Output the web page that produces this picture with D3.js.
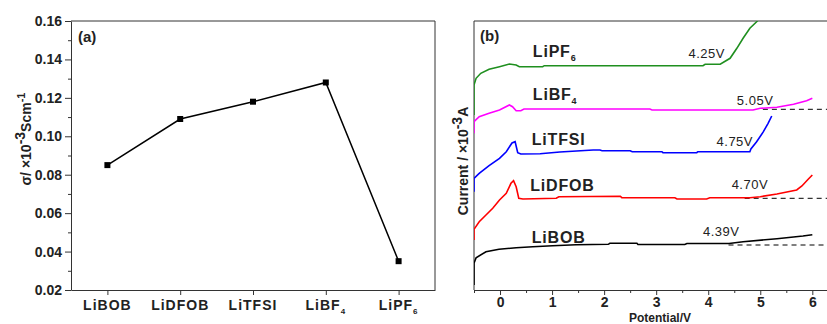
<!DOCTYPE html>
<html>
<head>
<meta charset="utf-8">
<script src="https://cdn.jsdelivr.net/npm/d3@7"></script>
<style>
    body { margin: 0; background: #fff; }
    text { font-family: Arial, "Liberation Sans", sans-serif; fill: #222; }
</style>
</head>
<body>
<script>
// panel (a): conductivity of each salt
const salts = ["LiBOB", "LiDFOB", "LiTFSI", "LiBF4", "LiPF6"];
const conductivity = [0.085, 0.109, 0.118, 0.128, 0.035];
const yTicksA = [0.02, 0.04, 0.06, 0.08, 0.10, 0.12, 0.14, 0.16];

// panel (b): LSV curves, [potential V, current (arb. units)]
const curveLiBOB = [[-0.5, 0.5], [-0.5, 2.67], [-0.46, 3.23], [-0.27, 3.83], [-0.02, 4.07], [0.31, 4.23],
    [0.63, 4.33], [1.01, 4.43], [1.46, 4.53], [2.08, 4.57], [2.11, 4.67], [2.63, 4.67], [2.65, 4.55],
    [3.55, 4.55], [3.59, 4.65], [4.40, 4.65], [4.67, 4.83], [5.32, 5.13], [5.82, 5.4], [6.0, 5.53]];
const curveLiDFOB = [[-0.5, 5.0], [-0.5, 6.07], [-0.4, 6.83], [-0.27, 7.5], [-0.14, 8.17], [-0.01, 9.0],
    [0.12, 9.67], [0.21, 10.67], [0.26, 10.93], [0.31, 10.33], [0.36, 9.17], [0.44, 9.1], [1.08, 9.17],
    [1.13, 9.33], [2.31, 9.38], [2.34, 9.23], [3.36, 9.23], [3.40, 9.1], [3.97, 9.1], [4.03, 9.23],
    [4.80, 9.23], [5.0, 9.33], [5.32, 9.6], [5.70, 10.0], [5.80, 10.4], [5.92, 11.07], [6.0, 11.5]];
const curveLiTFSI = [[-0.5, 9.83], [-0.5, 11.17], [-0.4, 11.67], [-0.21, 12.43], [-0.01, 13.17], [0.12, 13.83],
    [0.23, 14.7], [0.29, 14.83], [0.34, 13.73], [0.40, 13.6], [0.77, 13.63], [1.15, 13.8], [1.79, 14.0],
    [1.92, 14.0], [1.96, 13.93], [2.50, 13.93], [2.54, 13.83], [3.11, 13.83], [3.13, 13.73], [3.78, 13.73],
    [3.80, 13.83], [4.80, 13.83], [4.82, 14.1], [4.93, 14.83], [5.06, 15.83], [5.15, 16.67], [5.22, 17.4]];
const curveLiBF4 = [[-0.5, 15.67], [-0.5, 16.83], [-0.4, 17.33], [-0.21, 17.67], [-0.01, 18.0], [0.18, 18.5],
    [0.24, 18.33], [0.31, 17.93], [0.40, 17.93], [0.46, 18.1], [2.88, 18.1], [2.92, 18.0], [4.86, 18.0],
    [5.0, 18.17], [5.32, 18.27], [5.64, 18.57], [5.89, 18.93], [6.0, 19.17]];
const curveLiPF6 = [[-0.5, 17.5], [-0.5, 20.5], [-0.46, 21.17], [-0.37, 21.67], [-0.21, 22.07], [-0.01, 22.33],
    [0.18, 22.6], [0.31, 22.5], [0.37, 22.33], [0.82, 22.33], [0.85, 22.43], [3.90, 22.43], [3.94, 22.57],
    [4.23, 22.57], [4.42, 23.17], [4.55, 24.17], [4.67, 25.17], [4.80, 26.17], [4.93, 26.83], [5.03, 27.4]];

const curveSalts = ["LiPF6", "LiBF4", "LiTFSI", "LiDFOB", "LiBOB"];
const curveColors = ["#1f8f1f", "#ff00ff", "#0000ff", "#ff0000", "#000000"];
const curves = [curveLiPF6, curveLiBF4, curveLiTFSI, curveLiDFOB, curveLiBOB];
const onsetLabels = ["4.25V", "5.05V", "4.75V", "4.70V", "4.39V"];
// onset potential and baseline of dashed guide (null = no guide)
const onsetV = [4.25, 5.05, 4.75, 4.70, 4.39];
const baseline = [null, 18.07, null, 9.17, 4.5];
const xTicksB = [0, 1, 2, 3, 4, 5, 6];
const xMinorB = [-0.5, 0.5, 1.5, 2.5, 3.5, 4.5, 5.5, 6.5];

// label anchors in data units of panel (b)
const nameAnchor = [[0.63, 23.3], [0.63, 19.05], [0.61, 14.55], [0.58, 9.9], [0.61, 4.7]];
const onsetAnchor = [[3.62, 23.2], [4.55, 18.55], [4.16, 14.45], [4.45, 10.1], [3.90, 5.45]];

const svg = d3.select("body").append("svg")
    .attr("width", 827)
    .attr("height", 324);

// write "LiBF4" as LiBF with subscript 4
function saltText(sel, name, subSize) {
    const m = name.match(/^(.*?)(\d+)$/);
    if (m) {
        sel.append("tspan").text(m[1]);
        sel.append("tspan").attr("dy", 4).style("font-size", subSize + "px").text(m[2]);
    } else {
        sel.text(name);
    }
}

//---------------- panel (a)
const a = {left: 71, right: 435, top: 21, bottom: 290};

const xA = d3.scalePoint()
    .domain(salts)
    .range([a.left, a.right])
    .padding(0.5);

const yA = d3.scaleLinear()
    .domain([0.02, 0.16])
    .range([a.bottom, a.top]);

const gA = svg.append("g");

// minor ticks
gA.append("g")
    .attr("transform", `translate(${a.left},0)`)
    .call(d3.axisLeft(yA).tickValues(d3.range(0.03, 0.16, 0.02)).tickSize(3).tickFormat(""))
    .call(g => g.select(".domain").remove());

gA.append("g")
    .attr("transform", `translate(${a.left},0)`)
    .call(d3.axisLeft(yA).tickValues(yTicksA).tickSize(6).tickSizeOuter(0).tickPadding(3)
        .tickFormat(d3.format(".2f")))
    .call(g => g.selectAll("text").style("font-size", "14px").style("font-weight", "bold").attr("fill", "#222"));

gA.append("g")
    .attr("transform", `translate(0,${a.bottom})`)
    .call(d3.axisBottom(xA).tickSize(5).tickSizeOuter(0).tickFormat(""));

gA.selectAll("path.domain").attr("stroke", "#333");
gA.selectAll(".tick line").attr("stroke", "#333");

// top & right frame
gA.append("path")
    .attr("d", `M${a.left},${a.top}H${a.right}V${a.bottom}`)
    .attr("fill", "none")
    .attr("stroke", "#333");

xA.domain().forEach(s => {
    gA.append("text")
        .attr("x", xA(s))
        .attr("y", 310)
        .attr("text-anchor", "middle")
        .style("font-size", "14px")
        .style("font-weight", "bold")
        .style("letter-spacing", "1px")
        .call(t => saltText(t, s, 8));
});

const lineA = d3.line()
    .x((d, i) => xA(salts[i]))
    .y(d => yA(d));

gA.append("path")
    .datum(conductivity)
    .attr("d", lineA)
    .attr("fill", "none")
    .attr("stroke", "#000")
    .attr("stroke-width", 1.5);

gA.selectAll("rect.pt")
    .data(conductivity)
    .join("rect")
    .attr("class", "pt")
    .attr("x", (d, i) => xA(salts[i]) - 3)
    .attr("y", d => yA(d) - 3)
    .attr("width", 6)
    .attr("height", 6)
    .attr("fill", "#000");

gA.append("text")
    .attr("x", 78)
    .attr("y", 42)
    .style("font-size", "15px")
    .style("font-weight", "bold")
    .text("(a)");

// y label
const labA = gA.append("text")
    .attr("transform", "translate(31,139) rotate(-90)")
    .attr("text-anchor", "middle")
    .style("font-size", "14px")
    .style("font-weight", "bold");
labA.append("tspan").text("σ/ ×10");
labA.append("tspan").attr("dy", -6).text("-3");
labA.append("tspan").attr("dy", 6).text("Scm");
labA.append("tspan").attr("dy", -6).style("font-size", "11px").text("-1");

//---------------- panel (b)
const b = {left: 474, top: 21, bottom: 290};

const xB = d3.scaleLinear()
    .domain([-0.5, 6.5])
    .range([b.left, b.left + 7 * 52.05]);

const yB = d3.scaleLinear()
    .domain([0, 26.9])
    .range([b.bottom, b.top]);

const gB = svg.append("g");

svg.append("clipPath")
    .attr("id", "clipB")
    .append("rect")
    .attr("x", b.left)
    .attr("y", b.top)
    .attr("width", 400)
    .attr("height", b.bottom - b.top);

gB.append("g")
    .attr("transform", `translate(0,${b.bottom})`)
    .call(d3.axisBottom(xB).tickValues(xMinorB).tickSize(3).tickFormat(""))
    .call(g => g.select(".domain").remove());

gB.append("g")
    .attr("transform", `translate(0,${b.bottom})`)
    .call(d3.axisBottom(xB).tickValues(xTicksB).tickSize(5).tickSizeOuter(0).tickPadding(2)
        .tickFormat(d3.format("d")))
    .call(g => g.selectAll("text").style("font-size", "14px").style("font-weight", "bold").attr("fill", "#222"));

gB.selectAll("path.domain").attr("stroke", "#333");
gB.selectAll(".tick line").attr("stroke", "#333");

// left axis & top frame
gB.append("path")
    .attr("d", `M${b.left},${b.bottom}V${b.top}H${xB(6.5)}`)
    .attr("fill", "none")
    .attr("stroke", "#333");

const lineB = d3.line()
    .x(d => xB(d[0]))
    .y(d => yB(d[1]));

const plot = gB.append("g").attr("clip-path", "url(#clipB)");

curves.forEach((c, i) => {
    if (baseline[i] !== null) {
        plot.append("line")
            .attr("x1", xB(onsetV[i]))
            .attr("x2", xB(6.5))
            .attr("y1", yB(baseline[i]))
            .attr("y2", yB(baseline[i]))
            .attr("stroke", "#000")
            .attr("stroke-dasharray", "5,4");
    }
    plot.append("path")
        .datum(c)
        .attr("d", lineB)
        .attr("fill", "none")
        .attr("stroke", curveColors[i])
        .attr("stroke-width", 1.6);
});

curveSalts.forEach((s, i) => {
    gB.append("text")
        .attr("x", xB(nameAnchor[i][0]))
        .attr("y", yB(nameAnchor[i][1]))
        .style("font-size", "16px")
        .style("font-weight", "bold")
        .style("letter-spacing", "0.8px")
        .call(t => saltText(t, s, 9));

    gB.append("text")
        .attr("x", xB(onsetAnchor[i][0]))
        .attr("y", yB(onsetAnchor[i][1]))
        .style("font-size", "13px")
        .style("letter-spacing", "0.5px")
        .text(onsetLabels[i]);
});

gB.append("text")
    .attr("x", 480)
    .attr("y", 41)
    .style("font-size", "15px")
    .style("font-weight", "bold")
    .text("(b)");

const labB = gB.append("text")
    .attr("transform", "translate(468,161) rotate(-90)")
    .attr("text-anchor", "middle")
    .style("font-size", "14px")
    .style("font-weight", "bold");
labB.append("tspan").text("Current / ×10");
labB.append("tspan").attr("dy", -6).text("-3");
labB.append("tspan").attr("dy", 6).text("A");

gB.append("text")
    .attr("x", 660)
    .attr("y", 322)
    .attr("text-anchor", "middle")
    .style("font-size", "12px")
    .style("font-weight", "bold")
    .text("Potential/V");
</script>
</body>
</html>
